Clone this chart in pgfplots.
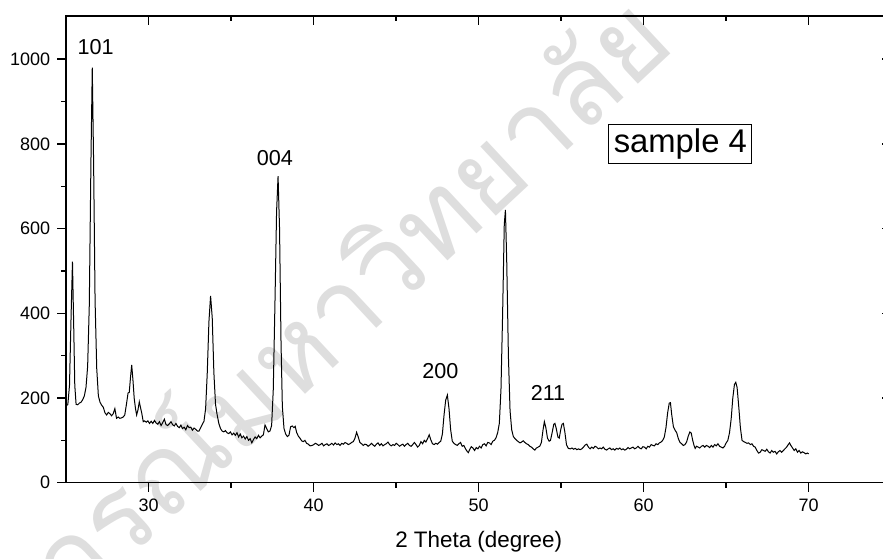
\documentclass[border=0pt]{standalone}
\usepackage{fontspec}
\setmainfont{Liberation Sans}
\newfontfamily\thaifont[Script=Thai]{Loma}
\usepackage{pgfplots}
\pgfplotsset{compat=1.18}
\usepackage{pgfplotstable}
\pgfplotstableread{
x y
25.00 181
25.10 185
25.20 230
25.30 400
25.38 522
25.45 380
25.52 230
25.60 185
25.70 184
25.80 188
25.90 190
26.00 196
26.10 205
26.20 225
26.30 275
26.40 420
26.50 760
26.58 980
26.66 760
26.75 430
26.85 270
26.95 205
27.05 190
27.15 183
27.25 178
27.35 165
27.45 160
27.55 166
27.65 163
27.75 158
27.85 163
27.95 175
28.05 152
28.15 155
28.25 152
28.35 153
28.45 155
28.55 160
28.65 185
28.75 212
28.82 213
28.90 250
28.97 278
29.05 240
29.12 200
29.20 175
29.27 160
29.35 172
29.43 191
29.50 178
29.58 164
29.67 144
29.75 146
29.85 143
29.95 146
30.05 140
30.15 145
30.25 140
30.35 147
30.45 141
30.55 138
30.65 144
30.75 135
30.85 142
30.95 150
31.05 137
31.15 135
31.25 139
31.35 144
31.45 137
31.55 134
31.65 140
31.75 133
31.85 130
31.95 136
32.05 128
32.15 131
32.25 125
32.35 135
32.45 130
32.55 131
32.65 124
32.75 129
32.85 126
32.95 122
33.05 122
33.15 130
33.25 138
33.35 145
33.45 175
33.55 260
33.65 380
33.75 441
33.85 390
33.95 260
34.05 185
34.15 160
34.25 140
34.35 128
34.45 122
34.55 120
34.65 123
34.75 118
34.85 116
34.95 120
35.05 113
35.15 117
35.25 112
35.35 118
35.45 108
35.55 115
35.65 106
35.75 110
35.85 103
35.95 109
36.05 100
36.15 104
36.25 94
36.35 102
36.45 108
36.55 104
36.65 112
36.75 106
36.85 110
36.95 113
37.05 136
37.15 128
37.25 120
37.35 122
37.45 135
37.55 220
37.65 420
37.75 640
37.84 724
37.93 600
38.02 330
38.10 180
38.20 128
38.30 115
38.40 109
38.50 112
38.60 132
38.70 134
38.80 130
38.88 133
38.97 118
39.07 110
39.17 105
39.27 99
39.37 97
39.47 100
39.57 93
39.67 91
39.78 87
39.90 88
40.00 90
40.10 93
40.20 91
40.30 88
40.40 90
40.50 93
40.60 87
40.70 90
40.80 92
40.90 88
41.00 90
41.10 93
41.20 89
41.30 94
41.40 90
41.50 92
41.60 88
41.70 93
41.80 91
41.90 95
42.00 93
42.10 90
42.20 92
42.30 95
42.40 97
42.50 105
42.60 119
42.70 108
42.80 95
42.90 92
43.00 88
43.10 91
43.20 90
43.30 86
43.40 89
43.50 93
43.60 89
43.70 86
43.80 91
43.90 94
44.00 88
44.10 92
44.20 87
44.30 90
44.40 92
44.50 96
44.60 90
44.70 87
44.80 90
44.90 88
45.00 93
45.10 90
45.20 86
45.30 89
45.40 91
45.50 86
45.60 90
45.70 93
45.80 88
45.90 86
46.00 90
46.10 95
46.20 90
46.30 84
46.40 88
46.50 97
46.60 92
46.70 100
46.80 96
46.90 104
47.00 113
47.10 101
47.20 92
47.30 90
47.40 93
47.50 91
47.60 95
47.70 98
47.80 115
47.90 160
48.00 195
48.10 207
48.20 175
48.30 125
48.40 98
48.50 93
48.60 90
48.70 88
48.80 92
48.90 95
49.00 86
49.10 88
49.20 80
49.30 74
49.37 71
49.45 78
49.55 85
49.65 82
49.75 76
49.85 83
49.95 80
50.05 86
50.15 82
50.25 90
50.35 92
50.45 87
50.55 95
50.65 94
50.75 90
50.85 98
50.95 100
51.05 106
51.15 118
51.25 140
51.35 220
51.45 400
51.55 610
51.62 644
51.70 520
51.80 300
51.90 170
52.00 125
52.10 109
52.20 104
52.30 100
52.40 97
52.50 94
52.60 96
52.70 99
52.80 95
52.90 92
53.00 90
53.10 86
53.20 84
53.30 80
53.40 77
53.50 82
53.60 84
53.70 86
53.80 95
53.90 125
53.98 144
54.07 130
54.17 105
54.27 98
54.35 100
54.45 118
54.55 138
54.62 140
54.70 128
54.80 108
54.88 105
54.97 125
55.05 138
55.13 140
55.22 120
55.32 90
55.43 81
55.55 80
55.65 82
55.75 79
55.85 81
55.95 78
56.05 80
56.15 78
56.25 80
56.35 84
56.45 89
56.55 91
56.65 84
56.75 80
56.85 84
56.95 81
57.05 86
57.15 84
57.25 80
57.35 82
57.45 80
57.55 84
57.65 79
57.75 77
57.85 80
57.95 82
58.05 78
58.15 80
58.25 77
58.35 81
58.45 79
58.55 82
58.65 78
58.75 80
58.85 77
58.95 79
59.05 83
59.15 80
59.25 82
59.35 84
59.45 80
59.55 82
59.65 86
59.75 82
59.85 80
59.95 85
60.05 84
60.15 80
60.25 86
60.35 84
60.45 90
60.55 88
60.65 87
60.75 92
60.85 90
60.95 94
61.05 96
61.15 100
61.25 108
61.35 130
61.45 165
61.55 188
61.62 189
61.70 160
61.80 132
61.90 124
62.00 118
62.10 104
62.20 95
62.30 92
62.40 88
62.50 90
62.60 96
62.70 110
62.80 120
62.88 117
62.97 100
63.05 88
63.12 81
63.20 86
63.30 84
63.40 82
63.50 86
63.60 88
63.70 84
63.80 88
63.90 86
64.00 83
64.10 88
64.20 84
64.30 90
64.40 87
64.50 92
64.60 86
64.70 84
64.80 82
64.90 86
65.00 94
65.10 100
65.20 118
65.30 150
65.40 200
65.50 232
65.58 237
65.66 225
65.76 180
65.86 130
65.96 100
66.06 97
66.16 95
66.26 93
66.36 94
66.46 90
66.56 92
66.66 86
66.76 84
66.86 76
66.96 70
67.06 72
67.16 78
67.26 76
67.36 74
67.46 79
67.56 73
67.66 70
67.76 76
67.86 72
67.96 74
68.06 68
68.16 73
68.26 76
68.36 72
68.46 76
68.56 80
68.66 84
68.76 90
68.84 94
68.92 88
69.02 82
69.12 76
69.22 80
69.32 72
69.42 76
69.52 70
69.62 73
69.72 71
69.82 68
69.92 70
70.00 68
}\xrd

\pgfplotsset{
  common/.style={
    scale only axis, width=412.5pt, height=233.35pt,
    xmin=25, xmax=75, ymin=0, ymax=1102,
    xtick={30,40,...,70}, minor x tick num=1,
    ytick={0,200,...,1000}, minor y tick num=1,
    major tick length=4.5pt, minor tick length=2.5pt,
    axis line style={line width=0.75pt},
    every tick/.style={black, line width=0.75pt},
  }
}

\begin{document}
\begin{tikzpicture}
\node[rotate=43, text=black!13, font=\thaifont\fontsize{55}{60}\selectfont] at (84pt,34pt) {จุฬาลงกรณ์มหาวิทยาลัย};
\begin{axis}[common,
  tick align=outside, xtick pos=left, ytick pos=left,
  /pgf/number format/assume math mode=true,
  /pgf/number format/1000 sep={},
  tick label style={font=\fontsize{9}{10}\selectfont},
  xlabel={2 Theta (degree)},
  xlabel style={font=\fontsize{11.2}{13}\selectfont, at={(axis description cs:0.5,0)}, anchor=base, yshift=-32.5pt},
  clip=true,
]
\addplot[black, line width=0.5pt, mark=none] table[x=x, y=y] {\xrd};
\node[anchor=base, font=\fontsize{10.8}{12}\selectfont] at (axis cs:26.78,1012) {101};
\node[anchor=base, font=\fontsize{10.8}{12}\selectfont] at (axis cs:37.65,750) {004};
\node[anchor=base, font=\fontsize{10.8}{12}\selectfont] at (axis cs:47.68,245) {200};
\node[anchor=base, font=\fontsize{10.8}{12}\selectfont] at (axis cs:54.2,195) {211};
\node[draw, line width=0.5pt, inner xsep=2.5pt, inner ysep=2pt, font=\fontsize{16.4}{18}\selectfont] at (axis cs:62.22,800) {sample 4};
\end{axis}
\begin{axis}[common,
  tick align=inside, xtick pos=right, ytick pos=right,
  xticklabel=\empty, yticklabel=\empty,
]
\end{axis}
\pgfresetboundingbox
\path[use as bounding box] (-33.1pt,-37.65pt) rectangle (408.4pt,241.35pt);
\end{tikzpicture}
\end{document}
